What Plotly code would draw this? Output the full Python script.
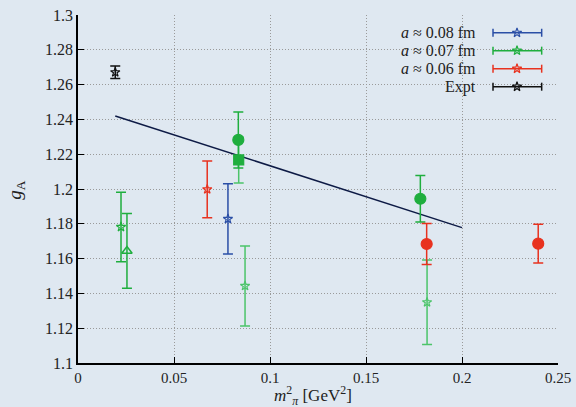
import plotly.graph_objects as go

# ---------------- data ----------------
# a ~ 0.08 fm (blue stars)
b_x = [0.0781]
b_y = [1.1828]
b_e = [0.0202]

# a ~ 0.07 fm (green)
g_star_x = [0.0224]
g_star_y = [1.1782]
g_star_e = [0.0200]
g_star2_x = [0.0870, 0.1818]
g_star2_y = [1.1443, 1.1349]
g_star2_e = [0.0230, 0.0243]
g_tri_x = [0.0255]
g_tri_y = [1.1644]
g_tri_e = [0.0215]
g_circ_x = [0.0835, 0.1783]
g_circ_y = [1.2282, 1.1944]
g_circ_e = [0.0161, 0.0133]
g_sq_x = [0.0837]
g_sq_y = [1.2167]
g_sq_e = [0.0132]

# a ~ 0.06 fm (red)
r_star_x = [0.0673]
r_star_y = [1.1998]
r_star_e = [0.0163]
r_circ_x = [0.1816, 0.2397]
r_circ_y = [1.1684, 1.1686]
r_circ_e = [0.0118, 0.0111]

# experiment
ex_x = [0.0194]
ex_y = [1.2671]
ex_e = [0.0036]

# fit line
fit_x = [0.0194, 0.2000]
fit_y = [1.2420, 1.1778]

legend_labels = ["<i>a</i> ≈ 0.08 fm", "<i>a</i> ≈ 0.07 fm", "<i>a</i> ≈ 0.06 fm", "Expt"]
x_title = "<i>m</i><sup>2</sup><sub><i>π</i></sub> [GeV<sup>2</sup>]"
y_title = "<i>g</i><sub>A</sub>"

x_ticks = [0, 0.05, 0.1, 0.15, 0.2, 0.25]
x_ticktext = ["0", "0.05", "0.1", "0.15", "0.2", "0.25"]
y_ticks = [1.1, 1.12, 1.14, 1.16, 1.18, 1.2, 1.22, 1.24, 1.26, 1.28, 1.3]
y_ticktext = ["1.1", "1.12", "1.14", "1.16", "1.18", "1.2", "1.22", "1.24", "1.26", "1.28", "1.3"]

# ---------------- styles ----------------
BLUE = "#2b4fa6"
GREEN = "#1fae3e"
LGREEN = "#4cc46a"
RED = "#e8321f"
BLACK = "#111111"
NAVY = "#0d1a45"
BG = "#dfe8f1"
FONT = "Liberation Serif"
STAR = "star-open"
SSIZE = 7

fig = go.Figure()

def pts(x, y, e, color, symbol, size, ecolor=None, lw=1.2):
    ecolor = ecolor or color
    fig.add_trace(go.Scatter(
        x=x, y=y, mode="markers",
        marker=dict(symbol=symbol, size=size, color=color,
                    line=dict(color=color, width=lw)),
        error_y=dict(type="data", array=e, visible=True, color=ecolor,
                     thickness=1.5, width=5),
        showlegend=False, hoverinfo="skip"))

fig.add_trace(go.Scatter(x=fit_x, y=fit_y, mode="lines",
                         line=dict(color=NAVY, width=1.5),
                         showlegend=False, hoverinfo="skip"))

pts(b_x, b_y, b_e, BLUE, STAR, SSIZE)
pts(g_star_x, g_star_y, g_star_e, GREEN, STAR, SSIZE)
pts(g_star2_x, g_star2_y, g_star2_e, LGREEN, STAR, SSIZE)
pts(g_tri_x, g_tri_y, g_tri_e, GREEN, "triangle-up-open", 9, lw=1.5)
pts(g_sq_x, g_sq_y, g_sq_e, GREEN, "square", 10, ecolor=LGREEN)
pts(g_circ_x, g_circ_y, g_circ_e, GREEN, "circle", 11)
pts(r_star_x, r_star_y, r_star_e, RED, STAR, SSIZE)
pts(r_circ_x, r_circ_y, r_circ_e, RED, "circle", 11)
pts(ex_x, ex_y, ex_e, BLACK, STAR, SSIZE)

# ---------------- manual legend ----------------
leg_colors = [BLUE, GREEN, RED, BLACK]
row_y = [0.949, 0.8975, 0.8457, 0.794]
lx0, lx1, lxs = 0.8646, 0.966, 0.9146
cap = 0.0115
shapes = []
for c, yy, lab in zip(leg_colors, row_y, legend_labels):
    shapes.append(dict(type="line", xref="paper", yref="paper",
                       x0=lx0, x1=lx1, y0=yy, y1=yy, line=dict(color=c, width=1.5)))
    for xc in (lx0, lx1):
        shapes.append(dict(type="line", xref="paper", yref="paper",
                           x0=xc, x1=xc, y0=yy - cap, y1=yy + cap,
                           line=dict(color=c, width=1.5)))
    fig.add_annotation(xref="paper", yref="paper", x=0.834, y=yy,
                       xanchor="right", yanchor="middle", showarrow=False,
                       text=lab, font=dict(family=FONT, size=16, color="#222"))
fig.add_trace(go.Scatter(
    x=[lxs] * 4, y=row_y, xaxis="x2", yaxis="y2", mode="markers",
    marker=dict(symbol=STAR, size=SSIZE, color=leg_colors,
                line=dict(color=leg_colors, width=1.2)),
    showlegend=False, hoverinfo="skip"))

# axis titles as annotations
fig.add_annotation(xref="paper", yref="paper", x=0.49, y=-0.092,
                   xanchor="center", yanchor="middle", showarrow=False,
                   text=x_title, font=dict(family=FONT, size=17, color="#222"))
fig.add_annotation(xref="paper", yref="paper", x=-0.13, y=0.497,
                   xanchor="center", yanchor="middle", showarrow=False, textangle=-90,
                   text=y_title, font=dict(family=FONT, size=19, color="#222"))

GRID = dict(showgrid=True, gridcolor="#9a9a9a", griddash="1px,2px", gridwidth=1)

fig.update_layout(
    width=576, height=407,
    margin=dict(l=78, r=18, t=15, b=44, autoexpand=False),
    paper_bgcolor=BG, plot_bgcolor=BG,
    font=dict(family=FONT, size=16, color="#222"),
    shapes=shapes,
    xaxis=dict(range=[0, 0.25], tickvals=x_ticks, ticktext=x_ticktext,
               automargin=False, tickfont=dict(size=15),
               showline=True, linecolor="black", linewidth=1.5,
               ticks="inside", ticklen=6, tickcolor="black",
               zeroline=False, **GRID),
    yaxis=dict(range=[1.1, 1.3], tickvals=y_ticks, ticktext=y_ticktext,
               automargin=False,
               showline=True, linecolor="black", linewidth=1.5,
               ticks="inside", ticklen=6, tickcolor="black",
               zeroline=False, **GRID),
    xaxis2=dict(range=[0, 1], overlaying="x", visible=False, fixedrange=True),
    yaxis2=dict(range=[0, 1], overlaying="y", visible=False, fixedrange=True),
)

fig.write_html("out.html")
